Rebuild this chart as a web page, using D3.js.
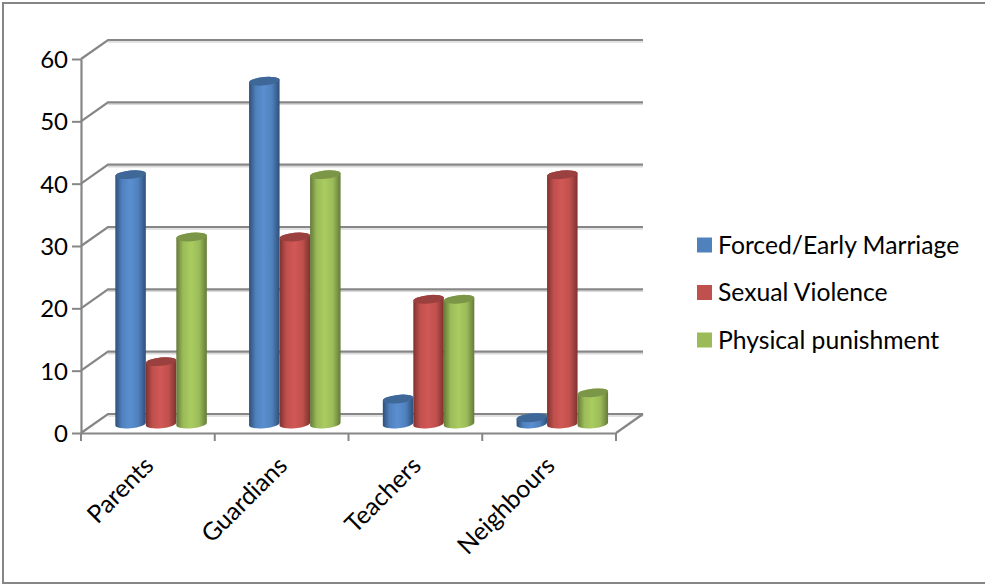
<!DOCTYPE html>
<html>
<head>
<meta charset="utf-8">
<script src="https://cdn.jsdelivr.net/npm/d3@7"></script>
<style>
  html, body { margin: 0; padding: 0; background: #fff; }
  svg { display: block; font-family: Lato, "Open Sans", sans-serif; }
</style>
</head>
<body>
<main></main>
<script>
const categories = ['Parents', 'Guardians', 'Teachers', 'Neighbours'];
const seriesNames = ['Forced/Early Marriage', 'Sexual Violence', 'Physical punishment'];
const forcedMarriage = [40, 55, 4, 1];
const sexualViolence = [10, 30, 20, 40];
const physicalPunishment = [30, 40, 20, 5];
const yTicks = [0, 10, 20, 30, 40, 50, 60];

const seriesValues = [forcedMarriage, sexualViolence, physicalPunishment];
// base, edge, lit centre and top-cap shades per series
const palette = [
  { flat: '#4f81bd', edge: '#2f4f78', light: '#5a8fd0', cap: '#3f6797' },
  { flat: '#c0504d', edge: '#7d3230', light: '#d15855', cap: '#9a403e' },
  { flat: '#9bbb59', edge: '#657a39', light: '#a9cc60', cap: '#7c9647' }
];

const width = 985;
const height = 584;
const axisColor = '#868686';

// front plane of the plot and the offset to the back wall
const frontLeft = 81;
const frontRight = 616;
const frontBottom = 433;
const frontTop = 59;
const depthX = 27;
const depthY = -19;

const barWidth = 30.5;
const barRadius = barWidth / 2;
const barShiftX = 13.2;
const barShiftY = -9;
const capTilt = 1.5;
const capRy = 4.2;

const svg = d3.select('main').append('svg')
    .attr('width', width)
    .attr('height', height);

// frame runs along the top, left and bottom only
svg.append('path')
    .attr('d', `M${width},3H3V583H${width}`)
    .attr('fill', 'none')
    .attr('stroke', axisColor)
    .attr('stroke-width', 2);

const x = d3.scaleBand().domain(categories).range([frontLeft, frontRight]);
const y = d3.scaleLinear().domain([0, 60]).range([frontBottom, frontTop]);
const xSeries = d3.scaleBand().domain(d3.range(seriesNames.length))
    .range([0, barWidth * seriesNames.length]);

const defs = svg.append('defs');
palette.forEach((c, i) => {
  const grad = defs.append('linearGradient')
      .attr('id', 'cyl' + i)
      .attr('x1', 0).attr('x2', 1).attr('y1', 0).attr('y2', 0);
  grad.append('stop').attr('offset', '0%').attr('stop-color', c.edge);
  grad.append('stop').attr('offset', '22%').attr('stop-color', c.flat);
  grad.append('stop').attr('offset', '48%').attr('stop-color', c.light);
  grad.append('stop').attr('offset', '75%').attr('stop-color', c.flat);
  grad.append('stop').attr('offset', '100%').attr('stop-color', c.edge);
});

// back wall gridlines with their diagonals down to the front axis
const grid = svg.append('g')
    .attr('fill', 'none')
    .attr('stroke', axisColor)
    .attr('stroke-width', 2.2);

grid.selectAll('path.grid-shadow')
    .data(yTicks)
    .enter().append('path')
    .attr('class', 'grid-shadow')
    .attr('stroke', '#d9d9d9')
    .attr('stroke-width', 1.5)
    .attr('d', d => `M${frontLeft + depthX},${y(d) + depthY + 2}H${frontRight + depthX}`);

grid.selectAll('path.grid-line')
    .data(yTicks)
    .enter().append('path')
    .attr('class', 'grid-line')
    .attr('d', d => `M${frontLeft},${y(d)}L${frontLeft + depthX},${y(d) + depthY}H${frontRight + depthX}`);

// right edge of the floor
grid.append('path')
    .attr('d', `M${frontRight},${frontBottom}L${frontRight + depthX},${frontBottom + depthY}`);

const yAxis = svg.append('g')
    .attr('transform', `translate(${frontLeft},0)`)
    .call(d3.axisLeft(y).tickValues(yTicks).tickSize(9).tickPadding(4).tickSizeOuter(0));

const xAxis = svg.append('g')
    .attr('transform', `translate(0,${frontBottom})`)
    .call(d3.axisBottom(x).tickSize(0).tickSizeOuter(0));

[yAxis, xAxis].forEach(axis => {
  axis.attr('font-family', null);
  axis.select('.domain').attr('stroke', axisColor).attr('stroke-width', 2.2);
  axis.selectAll('.tick line').attr('stroke', axisColor).attr('stroke-width', 2);
});

yAxis.selectAll('.tick text')
    .attr('fill', '#000')
    .attr('font-size', 24)
    .attr('dy', '0.36em');

// category labels hang from their end at 45 degrees
xAxis.selectAll('.tick text')
    .attr('fill', '#000')
    .attr('font-size', 24.7)
    .attr('text-anchor', 'end')
    .attr('transform', 'translate(-6,21) rotate(-45)')
    .attr('x', 0)
    .attr('y', 0)
    .attr('dy', '0.75em');

// axis ticks sit on the category boundaries
xAxis.selectAll('line.boundary')
    .data(d3.range(categories.length + 1))
    .enter().append('line')
    .attr('class', 'boundary')
    .attr('x1', i => frontLeft + i * x.step())
    .attr('x2', i => frontLeft + i * x.step())
    .attr('y1', 0)
    .attr('y2', 8)
    .attr('stroke', axisColor)
    .attr('stroke-width', 2);

// bar centres are on the middle depth plane, roughly halfway to the back wall
const barLayer = svg.append('g')
    .attr('transform', `translate(${barShiftX},${barShiftY})`);

const bars = [];
seriesValues.forEach((values, s) => {
  values.forEach((value, c) => {
    bars.push({ s, c, value });
  });
});

const capAngle = -Math.atan2(capTilt, barRadius) * 180 / Math.PI;
const capRx = Math.hypot(barRadius, capTilt);

function barX(d) {
  return x(categories[d.c]) + (x.bandwidth() - xSeries.step() * seriesNames.length) / 2
    + xSeries(d.s) + barRadius;
}

// side of the cylinder: up the left edge, across the cap, down and round the base
function bodyPath(d) {
  const cx = barX(d);
  const top = y(d.value);
  const base = y(0);
  return `M${cx - barRadius},${base + capTilt}`
    + `L${cx - barRadius},${top + capTilt}`
    + `A${capRx},${capRy} ${capAngle} 0 1 ${cx + barRadius},${top - capTilt}`
    + `L${cx + barRadius},${base - capTilt}`
    + `A${capRx},${capRy} ${capAngle} 0 1 ${cx - barRadius},${base + capTilt}Z`;
}

function capPath(d) {
  const cx = barX(d);
  const top = y(d.value);
  return `M${cx - barRadius},${top + capTilt}`
    + `A${capRx},${capRy} ${capAngle} 1 1 ${cx + barRadius},${top - capTilt}`
    + `A${capRx},${capRy} ${capAngle} 1 1 ${cx - barRadius},${top + capTilt}Z`;
}

const bar = barLayer.selectAll('g.bar')
    .data(bars)
    .enter().append('g')
    .attr('class', 'bar');

bar.append('path')
    .attr('d', bodyPath)
    .attr('fill', d => `url(#cyl${d.s})`);

bar.append('path')
    .attr('d', capPath)
    .attr('fill', d => palette[d.s].cap);

// legend
const legendY = d3.scalePoint().domain(seriesNames).range([245, 340]);

const legend = svg.append('g')
    .selectAll('g')
    .data(seriesNames)
    .enter().append('g')
    .attr('transform', d => `translate(697,${legendY(d)})`);

legend.append('rect')
    .attr('x', 0)
    .attr('y', -7.5)
    .attr('width', 15)
    .attr('height', 15)
    .attr('fill', (d, i) => palette[i].flat);

legend.append('text')
    .attr('x', 21)
    .attr('dy', '0.35em')
    .attr('font-size', 24.7)
    .attr('fill', '#000')
    .text(d => d);
</script>
</body>
</html>
